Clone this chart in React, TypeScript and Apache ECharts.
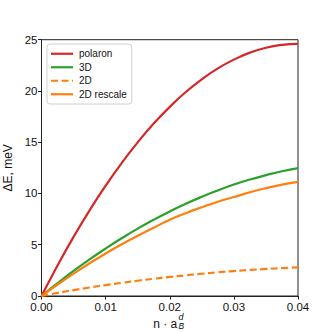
import React, { useEffect, useRef } from "react";
import * as echarts from "echarts";

const nValues = [0, 0.0025, 0.005, 0.0075, 0.01, 0.0125, 0.015, 0.0175, 0.02, 0.0225, 0.025, 0.0275, 0.03, 0.0325, 0.035, 0.0375, 0.04];
const polaron = [0, 2.98, 5.77, 8.36, 10.76, 12.97, 14.99, 16.82, 18.45, 19.9, 21.14, 22.2, 23.06, 23.74, 24.22, 24.5, 24.6];
const threeD = [0, 1.25, 2.44, 3.57, 4.63, 5.63, 6.57, 7.44, 8.25, 9.0, 9.68, 10.3, 10.87, 11.36, 11.79, 12.17, 12.47];
const twoD = [0, 0.3, 0.57, 0.83, 1.06, 1.28, 1.49, 1.68, 1.86, 2.02, 2.17, 2.31, 2.43, 2.54, 2.64, 2.72, 2.8];
const twoDRescale = [0, 1.12, 2.18, 3.2, 4.14, 5.04, 5.88, 6.66, 7.44, 8.08, 8.66, 9.2, 9.65, 10.12, 10.52, 10.86, 11.14];
const seriesNames = ["polaron", "3D", "2D", "2D rescale"];
const xTicks = { min: 0, max: 0.04, interval: 0.01 };
const yTicks = { min: 0, max: 25, interval: 5 };

const FONT = "Liberation Sans";
const SOLID_ICON = "path://M0,0 H22 V2.2 H0 Z";
const DASH_ICON = "path://M0,0 H7 V2.2 H0 Z M10.5,0 H17.5 V2.2 H10.5 Z M21,0 H22 V2.2 H21 Z";

export default function App() {
  const ref = useRef<HTMLDivElement>(null);
  useEffect(() => {
    if (!ref.current) return;
    const chart = echarts.init(ref.current, undefined, { renderer: "svg" });
    const mk = (name: string, vals: number[], color: string, dashed: boolean) => ({
      name,
      type: "line",
      data: nValues.map((n, i) => [n, vals[i]]),
      smooth: true,
      symbol: "none",
      lineStyle: { color, width: 2.2, type: dashed ? [7, 3.5] : "solid" },
      itemStyle: { color },
    });
    chart.setOption({
      animation: false,
      backgroundColor: "#fff",
      textStyle: { fontFamily: FONT },
      grid: {
        left: 41.5,
        right: 34,
        top: 39.7,
        bottom: 36,
        outerBoundsMode: "none",
        containLabel: false,
        show: true,
        borderColor: "#222",
        borderWidth: 1,
      },
      legend: {
        orient: "vertical",
        left: 47,
        top: 44,
        data: seriesNames.map((name, i) => ({ name, icon: i === 2 ? DASH_ICON : SOLID_ICON })),
        itemWidth: 22,
        itemHeight: 2.2,
        itemGap: 2,
        padding: [4, 5, 4, 4],
        borderColor: "#d0d0d0",
        borderWidth: 1,
        borderRadius: 3,
        backgroundColor: "rgba(255,255,255,0.8)",
        textStyle: { fontFamily: FONT, fontSize: 10, color: "#111", padding: [0, 0, 0, 1], lineHeight: 11.5 },
      },
      xAxis: {
        type: "value",
        min: xTicks.min,
        max: xTicks.max,
        interval: xTicks.interval,
        name: "n · a",
        nameLocation: "middle",
        nameGap: 21,
        nameTextStyle: { fontFamily: FONT, fontSize: 12, lineHeight: 12, color: "#111", padding: [0, 9, 0, 0] },
        axisLine: { show: true, lineStyle: { color: "#222", width: 1 } },
        axisTick: { show: true, inside: false, length: 3.5, lineStyle: { color: "#222" } },
        splitLine: { show: false },
        axisLabel: {
          fontFamily: FONT,
          fontSize: 11.5,
          color: "#111",
          margin: 5,
          formatter: (v: number) => v.toFixed(2),
        },
      },
      yAxis: {
        type: "value",
        min: yTicks.min,
        max: yTicks.max,
        interval: yTicks.interval,
        name: "ΔE, meV",
        nameLocation: "middle",
        nameGap: 16,
        nameRotate: 90,
        nameTextStyle: { fontFamily: FONT, fontSize: 12, color: "#111" },
        axisLine: { show: true, lineStyle: { color: "#222", width: 1 } },
        axisTick: { show: true, inside: false, length: 3.5, lineStyle: { color: "#222" } },
        splitLine: { show: false },
        axisLabel: { fontFamily: FONT, fontSize: 11.5, color: "#111", margin: 4 },
      },
      graphic: [
        {
          type: "text",
          left: 178.5,
          top: 312.5,
          style: { text: "d", font: "italic 9px " + FONT, fill: "#111" },
        },
        {
          type: "text",
          left: 178.5,
          top: 321.5,
          style: { text: "B", font: "italic 8.5px " + FONT, fill: "#111" },
        },
      ],
      series: [
        mk(seriesNames[0], polaron, "#d62728", false),
        mk(seriesNames[1], threeD, "#2ca02c", false),
        mk(seriesNames[2], twoD, "#ff7f0e", true),
        mk(seriesNames[3], twoDRescale, "#ff7f0e", false),
      ],
    });
    return () => chart.dispose();
  }, []);
  return <div ref={ref} style={{ position: "fixed", left: 0, top: 0, width: 332, height: 332 }} />;
}
